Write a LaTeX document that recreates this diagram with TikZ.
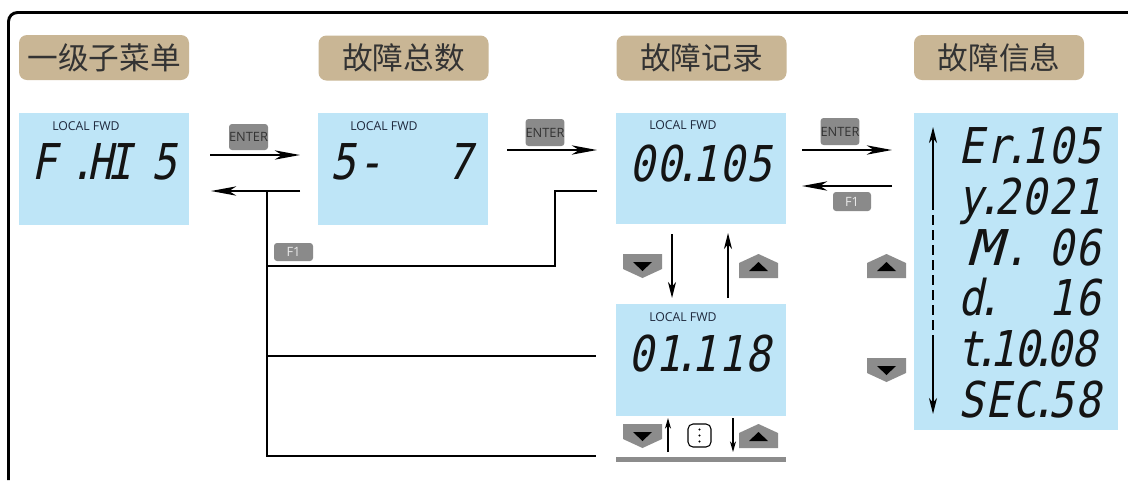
\documentclass[tikz,border=0pt]{standalone}
\usepackage{fontspec}
\usepackage{graphicx}
\setmainfont{Open Sans}
\newfontfamily\cjk{Noto Sans CJK SC}
\newfontfamily\segfont[FakeSlant=0.2,FakeStretch=0.85]{DejaVu Sans Mono}
\newfontfamily\lblfont{Open Sans}
\usetikzlibrary{arrows.meta}
\newdimen\px \px=0.75pt
\newcommand\sgd[1]{\makebox[27\px][c]{#1}}
\newcommand\sgn[1]{\makebox[25\px][c]{#1}}
\newcommand\sgdot{\makebox[9\px][c]{.}}
\newcommand\sgdotn{\makebox[7\px][c]{.}}
\newcommand\sgb{\hspace*{27\px}}
\newcommand\sgh{\hspace*{9\px}}
\definecolor{pill}{RGB}{201,182,149}
\definecolor{lcd}{RGB}{190,229,247}
\definecolor{btn}{RGB}{140,140,140}
\definecolor{keyg}{RGB}{138,138,138}
\definecolor{navy}{RGB}{30,40,60}
\tikzset{
  pillbox/.style={fill=pill, rounded corners=8\px, minimum width=170\px, minimum height=45\px, inner sep=0pt, font=\cjk\fontsize{23}{23}\selectfont, text=black!80},
  lcdbox/.style={fill=lcd, inner sep=0pt},
  loc/.style={anchor=base west, inner sep=0pt, font=\lblfont\fontsize{9.2}{10}\selectfont, text=navy},
  seg/.style={anchor=base west, inner sep=0pt, font=\segfont\fontsize{37}{37}\selectfont, text=black!92},
  keylbl/.style={fill=keyg, rounded corners=3\px, inner sep=0pt, font=\lblfont\fontsize{9.6}{10}\selectfont, text=black!80},
  f1lbl/.style={keylbl, text=white!92!black},
  arr/.style={line width=1.5pt, -{Stealth[length=19pt,width=7pt,inset=5.5pt]}},
  conn/.style={line width=1.2pt},
  varr/.style={line width=1.1pt, -{Stealth[length=12pt,width=6pt,inset=3.5pt]}},
  sarr/.style={line width=0.9pt, -{Stealth[length=8pt,width=4.5pt,inset=2.5pt]}},
  downbtn/.pic={
    \fill[btn] (0,0) -- (39,0) -- (39,15) -- (19.5,24) -- (0,15) -- cycle;
    \fill[black] (10,8) -- (29,8) -- (19.5,17) -- cycle;
  },
  upbtn/.pic={
    \fill[btn] (0,24) -- (39,24) -- (39,9) -- (19.5,0) -- (0,9) -- cycle;
    \fill[black] (10,17) -- (29,17) -- (19.5,8) -- cycle;
  }
}
\begin{document}
\begin{tikzpicture}[x=0.75pt,y=-0.75pt]
\fill[white] (0,0) rectangle (1128,480);
\useasboundingbox (0,0) rectangle (1128,480);
% outer frame
\draw[line width=2.2pt, rounded corners=9\px] (8.5,480) -- (8.5,12.5) -- (1128,12.5);

% title pills
\node[pillbox] (t1) at (104,57.5) {一级子菜单};
\node[pillbox] (t2) at (403.5,58) {故障总数};
\node[pillbox] (t3) at (701.5,58) {故障记录};
\node[pillbox] (t4) at (999,57.5) {故障信息};

% LCD panels
\node[lcdbox, minimum width=170\px, minimum height=112\px] (p1) at (104,169) {};
\node[lcdbox, minimum width=170\px, minimum height=112\px] (p2) at (403,169) {};
\node[lcdbox, minimum width=170\px, minimum height=111\px] (p3) at (701,168.5) {};
\node[lcdbox, minimum width=170\px, minimum height=112\px] (p4) at (701,360) {};
\node[lcdbox, minimum width=204\px, minimum height=317\px] (p5) at (1016,271.5) {};

% LOCAL FWD
\node[loc] (l1) at (52,130) {LOCAL FWD};
\node[loc] (l2) at (350,130) {LOCAL FWD};
\node[loc] (l3) at (649,129) {LOCAL FWD};
\node[loc] (l4) at (649,321) {LOCAL FWD};

% segment texts
\node[seg] (d1) at (30,179) {\sgd{F}\hspace*{20\px}\sgdot\sgd{H}\makebox[14\px][c]{I}\hspace*{23\px}\sgd{5}};
\node[seg] (d2) at (329,179) {\sgd{5}\sgd{-}\sgb\sgb\sgh\sgd{7}};
\node[seg] (d3) at (628,181) {\sgd{0}\sgd{0}\sgdot\sgd{1}\sgd{0}\sgd{5}};
\node[seg] (d4) at (627,371) {\sgd{0}\sgd{1}\sgdot\sgd{1}\sgd{1}\sgd{8}};
\node[seg] (e1) at (957,163) {\sgd{E}\sgd{r}\sgdot\sgd{1}\sgd{0}\sgd{5}};
\node[seg] (e2) at (957,214) {\sgd{y}\sgdot\sgd{2}\sgd{0}\sgd{2}\sgd{1}};
\node[seg] (e3) at (957,265) {\makebox[54\px][c]{\scalebox{1.4}[1]{M}}\sgdot\sgb\sgd{0}\sgd{6}};
\node[seg] (e4) at (957,315) {\sgd{d}\sgdot\sgb\sgb\sgd{1}\sgd{6}};
\node[seg] (e5) at (957,366) {\sgn{t}\sgdotn\sgn{1}\sgn{0}\sgdotn\sgn{0}\sgn{8}};
\node[seg] (e6) at (957,417) {\sgd{S}\sgd{E}\sgd{C}\sgdot\sgd{5}\sgd{8}};

% key labels
\node[keylbl, minimum width=39\px, minimum height=26\px] (k1) at (248.5,137) {ENTER};
\node[keylbl, minimum width=38\px, minimum height=27\px] (k2) at (545,132.5) {ENTER};
\node[keylbl, minimum width=38\px, minimum height=27\px] (k3) at (840,131.5) {ENTER};
\node[f1lbl, minimum width=38\px, minimum height=19\px] (f1a) at (852,201.5) {F1};
\node[f1lbl, minimum width=39\px, minimum height=18\px] (f1b) at (293.5,252) {F1};

% connector coordinates
\coordinate (a1s) at (210,155); \coordinate (a1e) at (300,155);
\coordinate (a2s) at (300,191); \coordinate (a2e) at (211,191);
\coordinate (j) at (267,191);
\coordinate (jb) at (267,456);
\coordinate (r1) at (596,356); \coordinate (r2) at (596,456);
\coordinate (r1l) at (267,356);
\coordinate (b3) at (597,191); \coordinate (b3c) at (555,191);
\coordinate (b3d) at (555,266); \coordinate (b3e) at (267,266);
\coordinate (a3s) at (507,150); \coordinate (a3e) at (597,150);
\coordinate (a4s) at (802,150); \coordinate (a4e) at (892,150);
\coordinate (a5s) at (892,186); \coordinate (a5e) at (802,186);
\coordinate (v1s) at (672,234); \coordinate (v1e) at (672,298);
\coordinate (v2s) at (728,298); \coordinate (v2e) at (728,233);
\coordinate (s1s) at (668,452); \coordinate (s1e) at (668,418);
\coordinate (s2s) at (733,418); \coordinate (s2e) at (733,452);
\coordinate (q1) at (933,200); \coordinate (q1e) at (933,127);
\coordinate (q2) at (933,345); \coordinate (q2e) at (933,414);

% connectors
\draw[arr] (a1s) -- (a1e);
\draw[arr] (a2s) -- (a2e);
\draw[conn] (j) -- (jb) -- (r2);
\draw[conn] (r1l) -- (r1);
\draw[conn] (b3) -- (b3c) -- (b3d) -- (b3e);
\draw[arr] (a3s) -- (a3e);
\draw[arr] (a4s) -- (a4e);
\draw[arr] (a5s) -- (a5e);
\draw[varr] (v1s) -- (v1e);
\draw[varr] (v2s) -- (v2e);
\draw[sarr] (s1s) -- (s1e);
\draw[sarr] (s2s) -- (s2e);
\draw[varr] (q1) -- (q1e);
\draw[line width=1.1pt, dash pattern=on 10\px off 5\px] (q1) -- (q2);
\draw[varr] (q2) -- (q2e);

% buttons
\pic at (623,254) {downbtn};
\pic at (739,254) {upbtn};
\pic at (623,424) {downbtn};
\pic at (739,424) {upbtn};
\pic at (867,254) {upbtn};
\pic at (867,358) {downbtn};

% more box and bar
\draw[line width=0.8pt, rounded corners=5\px] (688,424) rectangle (711,447);
\fill (699.5,429.5) circle (1.1\px) (699.5,435.5) circle (1.1\px) (699.5,441.5) circle (1.1\px);
\fill[btn] (616,457) rectangle (786,462);
\end{tikzpicture}
\end{document}
